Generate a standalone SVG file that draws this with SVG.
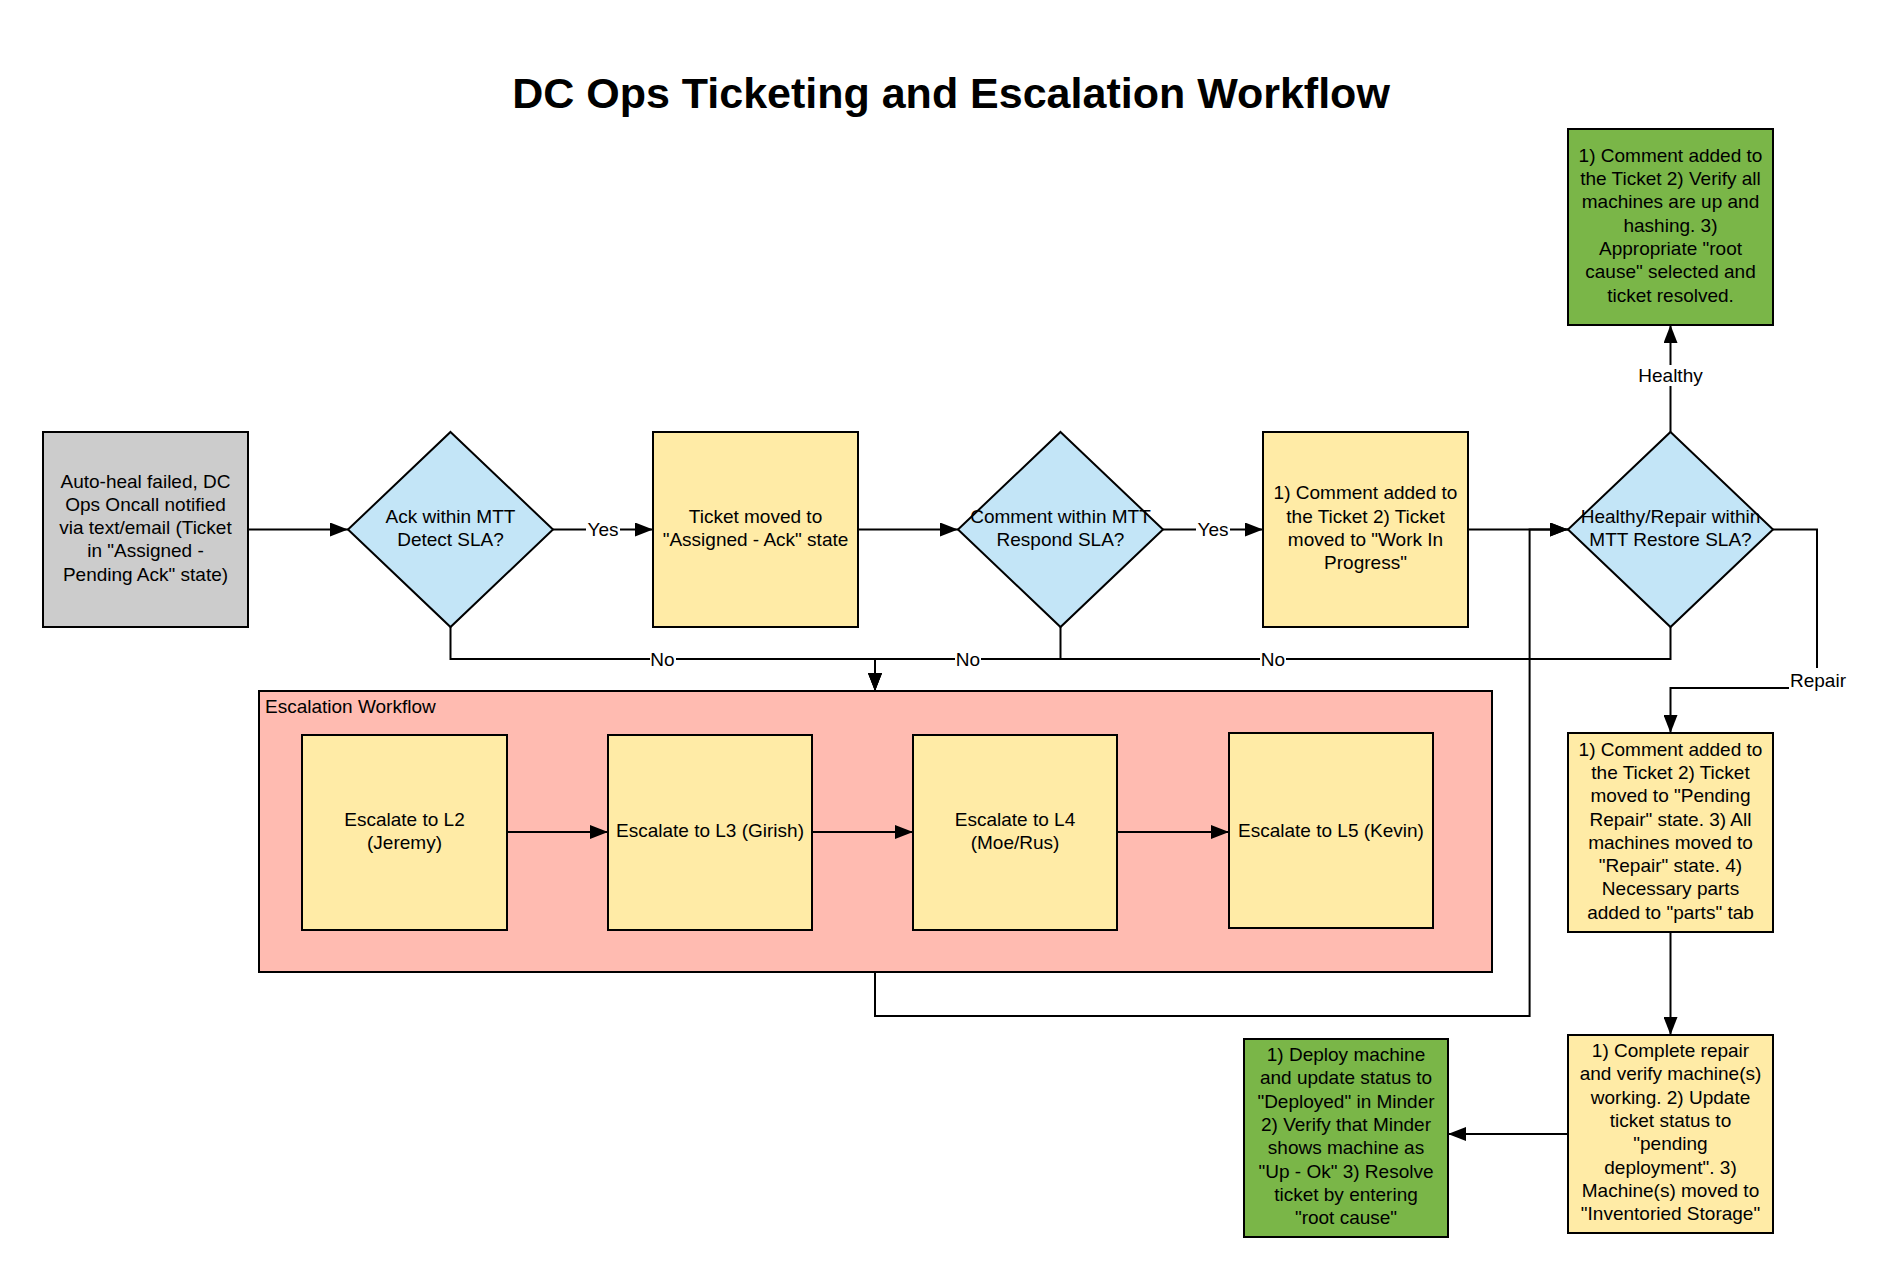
<svg xmlns="http://www.w3.org/2000/svg" width="1890" height="1280" viewBox="0 0 1890 1280">
<defs>
<style>
text{font-family:"Liberation Sans",Arial,sans-serif;font-size:19px;fill:#000}
.t{text-anchor:middle}
.title{font-size:43px;font-weight:bold;text-anchor:middle}
.box{stroke:#000;stroke-width:2}
.gray{fill:#CCCCCC}
.yel{fill:#FFEBA6}
.blue{fill:#C3E5F7}
.green{fill:#7AB648}
.pink{fill:#FFBBB1}
.ln{fill:none;stroke:#000;stroke-width:2}
.lbg{fill:#fff}
</style>
<marker id="ah" viewBox="0 0 18 14" markerWidth="18" markerHeight="14" refX="18" refY="7" orient="auto" markerUnits="userSpaceOnUse">
<path d="M0,0 L18,7 L0,14 z" fill="#000"/>
</marker>
</defs>
<rect width="1890" height="1280" fill="#fff"/>
<text class="title" x="951" y="108">DC Ops Ticketing and Escalation Workflow</text>

<g id="start">
<rect class="box gray" x="43" y="432" width="205" height="195"/>
<text class="t" x="145.5" y="487.5">Auto-heal failed, DC</text>
<text class="t" x="145.5" y="510.8">Ops Oncall notified</text>
<text class="t" x="145.5" y="534.1">via text/email (Ticket</text>
<text class="t" x="145.5" y="557.4">in "Assigned -</text>
<text class="t" x="145.5" y="580.7">Pending Ack" state)</text>
</g>

<g id="ack">
<polygon class="box blue" points="450.5,432 553,529.5 450.5,627 348,529.5"/>
<text class="t" x="450.5" y="522.5">Ack within MTT</text>
<text class="t" x="450.5" y="545.8">Detect SLA?</text>
</g>

<g id="assigned">
<rect class="box yel" x="653" y="432" width="205" height="195"/>
<text class="t" x="755.5" y="522.5">Ticket moved to</text>
<text class="t" x="755.5" y="545.8">"Assigned - Ack" state</text>
</g>

<g id="comment">
<polygon class="box blue" points="1060.5,432 1163,529.5 1060.5,627 958,529.5"/>
<text class="t" x="1060.5" y="522.5">Comment within MTT</text>
<text class="t" x="1060.5" y="545.8">Respond SLA?</text>
</g>

<g id="wip">
<rect class="box yel" x="1263" y="432" width="205" height="195"/>
<text class="t" x="1365.5" y="499.2">1) Comment added to</text>
<text class="t" x="1365.5" y="522.5">the Ticket 2) Ticket</text>
<text class="t" x="1365.5" y="545.8">moved to "Work In</text>
<text class="t" x="1365.5" y="569.1">Progress"</text>
</g>

<g id="restore">
<polygon class="box blue" points="1670.5,432 1773,529.5 1670.5,627 1568,529.5"/>
<text class="t" x="1670.5" y="522.5">Healthy/Repair within</text>
<text class="t" x="1670.5" y="545.8">MTT Restore SLA?</text>
</g>

<g id="resolved">
<rect class="box green" x="1568" y="129" width="205" height="196"/>
<text class="t" x="1670.5" y="161.7">1) Comment added to</text>
<text class="t" x="1670.5" y="185">the Ticket 2) Verify all</text>
<text class="t" x="1670.5" y="208.3">machines are up and</text>
<text class="t" x="1670.5" y="231.6">hashing. 3)</text>
<text class="t" x="1670.5" y="254.9">Appropriate "root</text>
<text class="t" x="1670.5" y="278.2">cause" selected and</text>
<text class="t" x="1670.5" y="301.5">ticket resolved.</text>
</g>

<g id="escalation">
<rect class="box pink" x="259" y="691" width="1233" height="281"/>
<text x="265" y="713">Escalation Workflow</text>
</g>

<g id="l2">
<rect class="box yel" x="302" y="735" width="205" height="195"/>
<text class="t" x="404.5" y="825.5">Escalate to L2</text>
<text class="t" x="404.5" y="848.8">(Jeremy)</text>
</g>
<g id="l3">
<rect class="box yel" x="608" y="735" width="204" height="195"/>
<text class="t" x="710" y="837.1">Escalate to L3 (Girish)</text>
</g>
<g id="l4">
<rect class="box yel" x="913" y="735" width="204" height="195"/>
<text class="t" x="1015" y="825.5">Escalate to L4</text>
<text class="t" x="1015" y="848.8">(Moe/Rus)</text>
</g>
<g id="l5">
<rect class="box yel" x="1229" y="733" width="204" height="195"/>
<text class="t" x="1331" y="837.1">Escalate to L5 (Kevin)</text>
</g>

<g id="repair">
<rect class="box yel" x="1568" y="733" width="205" height="199"/>
<text class="t" x="1670.5" y="755.6">1) Comment added to</text>
<text class="t" x="1670.5" y="778.9">the Ticket 2) Ticket</text>
<text class="t" x="1670.5" y="802.2">moved to "Pending</text>
<text class="t" x="1670.5" y="825.5">Repair" state. 3) All</text>
<text class="t" x="1670.5" y="848.8">machines moved to</text>
<text class="t" x="1670.5" y="872.1">"Repair" state. 4)</text>
<text class="t" x="1670.5" y="895.4">Necessary parts</text>
<text class="t" x="1670.5" y="918.7">added to "parts" tab</text>
</g>

<g id="complete">
<rect class="box yel" x="1568" y="1035" width="205" height="198"/>
<text class="t" x="1670.5" y="1057.1">1) Complete repair</text>
<text class="t" x="1670.5" y="1080.4">and verify machine(s)</text>
<text class="t" x="1670.5" y="1103.7">working. 2) Update</text>
<text class="t" x="1670.5" y="1127">ticket status to</text>
<text class="t" x="1670.5" y="1150.3">"pending</text>
<text class="t" x="1670.5" y="1173.6">deployment". 3)</text>
<text class="t" x="1670.5" y="1196.9">Machine(s) moved to</text>
<text class="t" x="1670.5" y="1220.2">"Inventoried Storage"</text>
</g>

<g id="deploy">
<rect class="box green" x="1244" y="1039" width="204" height="198"/>
<text class="t" x="1346" y="1061.1">1) Deploy machine</text>
<text class="t" x="1346" y="1084.4">and update status to</text>
<text class="t" x="1346" y="1107.7">"Deployed" in Minder</text>
<text class="t" x="1346" y="1131">2) Verify that Minder</text>
<text class="t" x="1346" y="1154.3">shows machine as</text>
<text class="t" x="1346" y="1177.6">"Up - Ok" 3) Resolve</text>
<text class="t" x="1346" y="1200.9">ticket by entering</text>
<text class="t" x="1346" y="1224.2">"root cause"</text>
</g>

<g id="connectors">
<path class="ln" d="M248,529.5 H348" marker-end="url(#ah)"/>
<path class="ln" d="M553,529.5 H653" marker-end="url(#ah)"/>
<path class="ln" d="M858,529.5 H958" marker-end="url(#ah)"/>
<path class="ln" d="M1163,529.5 H1263" marker-end="url(#ah)"/>
<path class="ln" d="M1468,529.5 H1568" marker-end="url(#ah)"/>
<path class="ln" d="M875,972 V1016 H1529.6 V529.5 H1568" marker-end="url(#ah)"/>
<path class="ln" d="M450.5,627 V659 H875 V691" marker-end="url(#ah)"/>
<path class="ln" d="M1060.5,627 V659 H875 V691" marker-end="url(#ah)"/>
<path class="ln" d="M1670.5,627 V659 H875 V691" marker-end="url(#ah)"/>
<path class="ln" d="M1670.5,432 V325" marker-end="url(#ah)"/>
<path class="ln" d="M1773,529.5 H1817 V688 H1670.5 V733" marker-end="url(#ah)"/>
<path class="ln" d="M1670.5,932 V1035" marker-end="url(#ah)"/>
<path class="ln" d="M1568,1134 H1448" marker-end="url(#ah)"/>
<path class="ln" d="M507,832 H608" marker-end="url(#ah)"/>
<path class="ln" d="M812,832 H913" marker-end="url(#ah)"/>
<path class="ln" d="M1117,832 H1229" marker-end="url(#ah)"/>

<rect class="lbg" x="586" y="520" width="34" height="20"/>
<text class="t" x="603" y="536">Yes</text>
<rect class="lbg" x="1196" y="520" width="34" height="20"/>
<text class="t" x="1213" y="536">Yes</text>
<rect class="lbg" x="650" y="649" width="26" height="20"/>
<text class="t" x="662.5" y="665.6">No</text>
<rect class="lbg" x="955" y="649" width="26" height="20"/>
<text class="t" x="968" y="665.6">No</text>
<rect class="lbg" x="1260" y="649" width="26" height="20"/>
<text class="t" x="1273" y="665.6">No</text>
<rect class="lbg" x="1637" y="365" width="67" height="21"/>
<text class="t" x="1670.5" y="381.6">Healthy</text>
<rect class="lbg" x="1789" y="668" width="58" height="21"/>
<text class="t" x="1818" y="686.6">Repair</text>
</g>
</svg>
